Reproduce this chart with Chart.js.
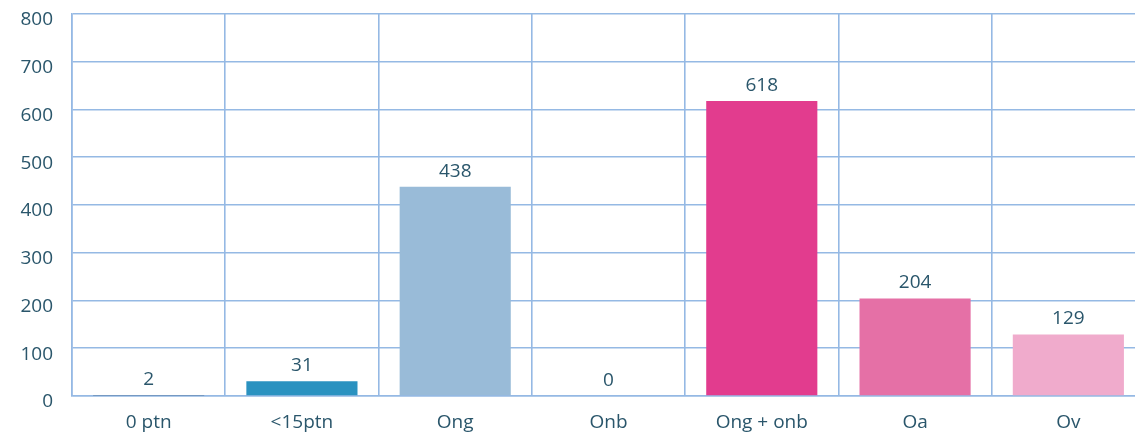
<!DOCTYPE html>
<html lang="nl">
<head>
<meta charset="UTF-8">
<title>Chart</title>
<script src="https://cdn.jsdelivr.net/npm/chart.js"></script>
<style>
  html, body { margin: 0; padding: 0; background: #fff; overflow: hidden; }
</style>
</head>
<body>
<canvas id="barChart" width="1146" height="433"></canvas>
<script>
const categories = ['0 ptn', '<15ptn', 'Ong', 'Onb', 'Ong + onb', 'Oa', 'Ov'];
const values = [2, 31, 438, 0, 618, 204, 129];
const barColors = ['#1b3d5e', '#2a92c0', '#99bbd8', '#2a92c0', '#e23c8e', '#e570a6', '#f0abcc'];
const yTicks = [0, 100, 200, 300, 400, 500, 600, 700, 800];

const textColor = '#2a566b';
const gridColor = '#95b9e4';
const fontFamily = '"Open Sans", sans-serif';

// value labels above the bars
const valueLabels = {
  id: 'valueLabels',
  afterDatasetsDraw(chart) {
    const ctx = chart.ctx;
    const meta = chart.getDatasetMeta(0);
    ctx.save();
    ctx.font = '19px ' + fontFamily;
    ctx.fillStyle = textColor;
    ctx.textAlign = 'center';
    ctx.textBaseline = 'bottom';
    meta.data.forEach((bar, i) => {
      ctx.fillText(String(values[i]), bar.x, bar.y - 6);
    });
    ctx.restore();
  }
};

const ctx = document.getElementById('barChart').getContext('2d');
new Chart(ctx, {
  type: 'bar',
  data: {
    labels: categories,
    datasets: [{
      data: values,
      backgroundColor: barColors,
      borderWidth: 0,
      barPercentage: 0.725,
      categoryPercentage: 1
    }]
  },
  options: {
    responsive: false,
    animation: false,
    layout: { padding: { top: 14, right: 1, left: 0, bottom: 0 } },
    plugins: {
      legend: { display: false },
      tooltip: { enabled: false }
    },
    scales: {
      x: {
        grid: { color: gridColor, lineWidth: 1.6, drawTicks: false, offset: true },
        border: { color: gridColor, width: 1.6 },
        ticks: { color: textColor, font: { family: fontFamily, size: 19 }, padding: 15 },
        afterFit(scale) { scale.height = 37; }
      },
      y: {
        min: 0,
        max: 800,
        afterBuildTicks(scale) { scale.ticks = yTicks.map(v => ({ value: v })); },
        grid: { color: gridColor, lineWidth: 1.6, drawTicks: false },
        border: { color: gridColor, width: 1.6 },
        ticks: { color: textColor, font: { family: fontFamily, size: 19 }, padding: 19, labelOffset: 6 },
        afterFit(scale) {
          scale.width = 72;
          scale.paddingTop = 0;
          scale.paddingBottom = 0;
        }
      }
    }
  },
  plugins: [valueLabels]
});
</script>
</body>
</html>
